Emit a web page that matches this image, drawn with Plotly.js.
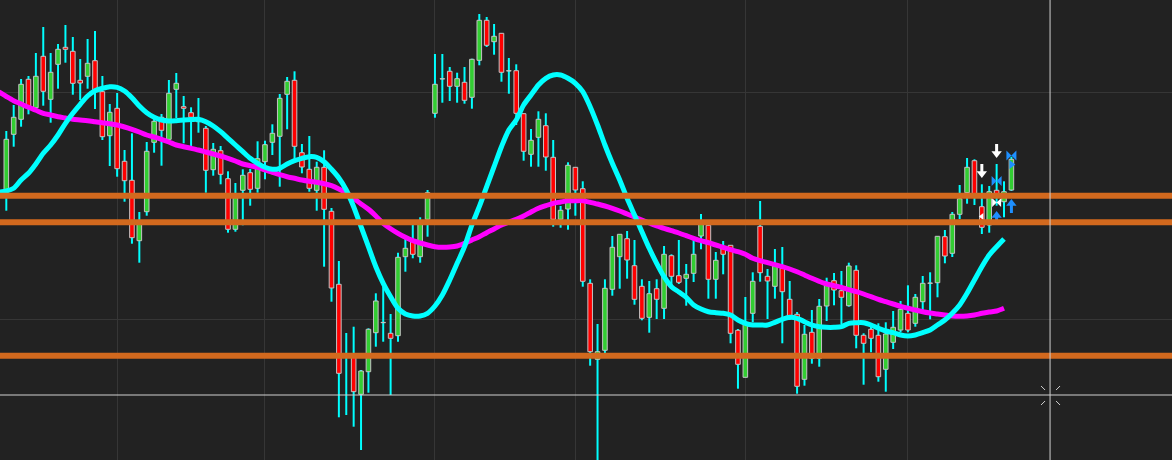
<!DOCTYPE html>
<html><head><meta charset="utf-8">
<script src="https://cdn.plot.ly/plotly-3.0.1.min.js"></script>
<style>html,body{margin:0;padding:0;background:#222222;overflow:hidden}#chart{width:1172px;height:460px}</style>
</head><body><div id="chart"></div>
<script>
// OHLC values (chart units), candle index 0..136
const open = [
270,325.7,340.7,380.7,352.3,403.7,360.7,395.7,412.7,408.7,
379.7,383.7,399.3,368.3,324.3,351.7,298.7,279.7,219.3,248.3,
317.7,342.7,320.7,370.7,353.3,347.3,338.3,331.7,290.3,309.3,
281.3,230.7,269.7,287.3,271.7,298.3,317.7,323.7,365.7,379.7,
307.3,290.7,269.7,292.7,248.7,175.7,105,105,65.7,88.3,
127.3,137.3,126.7,124.3,203.3,220,203.3,240.7,346.7,381,
388.7,373.7,377.7,362.7,399.7,439.7,418.3,426.7,389,389.3,
346.3,305.7,322.7,334.3,302.7,240.7,251,292.7,271.3,176.7,
100.7,109.7,170.7,203.3,221.3,194.3,173.7,142.7,171.3,151.7,
204.3,184.3,181.7,186.7,224,234.7,180.7,211.3,214.7,129.7,
82.7,146.7,233.7,183.7,173.7,191.7,160.7,145.7,80.7,127.7,
101.7,154,179.3,169.3,154.3,189.7,124.7,130.7,124.7,90.7,
117.7,130,146.7,136.7,158.3,176.7,177.3,223.3,206.7,245.7,
267.3,299.3,253.3,235,269.7,258.3,270];
const high = [
329,355,381,384,407,433,407,416,435,423,
401,421,429,384,356,367,310,326.7,248,318,
343.3,346,380,387,364,352.7,362,334,317,314,
288.7,277,290.7,291,318.7,319.3,335.7,366,383,388.7,
316,324,298.3,309.7,252,199,127,133.3,90,131.7,
166.7,173.3,146,207.3,223.3,235,242.7,270,406,406,
393,387.3,393,401.3,446,443,436,426.7,402,395.7,
346.7,331,348.7,346.7,320,254,297.7,292.7,278.7,180.7,
136,180.7,224,225.7,229,220,180.7,179,180.7,214,
205.7,220,196,220,246,234.7,208,219,214.7,131,
163,187.7,259,191,211,213,179,148,135,150,
161,182.3,187,189,197.3,194.7,126.7,135,136.7,137.7,
149,159,174.7,166,184,187.7,223.7,230,248,275,
302,300.7,275.7,274,296,278.7,303.3];
const low = [
249.3,313.3,333.3,345.7,350,354.3,337.3,371.3,397.3,365.3,
360,371.3,351,320,294,283.3,258.3,216.3,197.3,244.3,
307.3,294.3,320,342,316.7,313.3,327.3,267.3,284.3,275.7,
227.3,228.3,234.7,254.3,267.3,280.7,305,273.3,330.7,301.3,
286.7,268.3,249.3,193.3,158.3,42.7,45,33.3,10,67.3,
113.3,118.3,65,118.3,188.3,201.7,197.3,223.3,342.3,357.3,
359,357.3,356.3,351.3,394.7,413,405.3,378.3,366.3,335,
299.3,293.3,293.3,289.3,233.3,232.3,230.3,244.3,173.3,94.3,
-5,106.7,164.3,171.3,181.3,155.3,139.7,127.3,141,141,
173.3,176,154.3,178,210.7,161.3,161.3,185.7,116.7,71.3,
82.7,137.7,178.3,141,161.3,116.7,140,66.3,74.3,96.3,
93.3,139,154.7,136,153.3,111.7,75.3,107.7,78.3,68.3,
111,127.7,127.7,133.3,147.3,140.7,162.7,196.7,203,241,
256.3,255,226,227.3,254.3,242.7,269];
const close = [
320.7,342.7,375.7,353.3,383.7,368.7,387.7,410.7,410.7,376.7,
377,396.7,369,323.3,347.7,291.3,279.3,222.3,236.7,308.7,
338.7,329.7,366.7,376.7,351.7,342.7,338.8,289.7,310.7,285.7,
230.7,262.3,284.7,270.7,301.3,315.3,326.7,361.7,378.7,313.7,
293,271.7,292.7,250.7,172,86.7,105.5,68.3,89,130.7,
159,137.5,121.7,202.7,211.7,205.7,236.7,267.3,375.7,381.2,
373.7,381.3,359.7,400.7,439.7,414.7,423.7,387.7,389.2,346.7,
308.7,319.7,340.7,303,240.7,249.7,294.7,270,178.7,108.3,
108.3,171.7,212.7,225.7,200,160.7,141.7,166.3,160.7,205.7,
183.7,177.7,185.7,205.7,235.7,180.7,199.7,205.7,126.7,95.7,
137.3,178.7,187.3,179,194,168.3,144.3,73.7,125.7,101.7,
153.7,176,170,162.7,194,124.7,116.7,121.7,83.3,126,
132.7,150.7,130,162.7,176.7,176.9,223.7,204,245.7,261.3,
292.7,263.3,232.7,268.3,264.7,268.3,300.7];

// Moving averages, index -1..135
const cyanMA = [
268,269,271.7,280,286.7,296,306.7,315,325,336.7,346.7,355.7,364,369.3,371.7,373.3,372.7,369,362.3,354,347.3,342.7,340,339,
339.3,340,340.5,340.7,338.3,334,328.3,321.7,315,308.3,301.7,296.7,292.7,290.7,291.7,296,299.3,301.7,303.3,302.7,298.3,290.7,282,
270,253.3,233.3,213.3,193.3,176.7,163.3,151.7,146,144,144,146.7,154,165,180,196.7,213.3,235,253.3,273.3,293.3,313.3,330,
340,355,365,375,381.7,385,385,381.7,376.7,368.3,353.3,335,315,296.7,280,261.7,245,228.3,211.7,196.7,183.3,173.3,168,
162.7,155,151,148.3,147.3,146.7,145,140,136.7,135,135,135,137.7,140.7,142.7,141.7,138.3,135,133.3,132.7,132.7,133.3,136.7,
137.3,137.3,135,131.7,129,127.3,125,124,125,127.3,130,135,140,146.7,155,166.7,180,193.3,205,213.3,221];
const magentaMA = [
368,363.5,359.3,356,352.7,349.7,346.7,345,343.3,342,340.7,340,339.3,338.3,337.3,336.3,335,333,330.7,328,325,323,320.7,318,
315,313.3,311.7,310,308,306,304,301.7,299,296,294.3,292.7,290,287.7,285.3,283.3,281.7,280,278.7,277.7,276.3,274.3,271,
267,261.7,256,250.7,244,236.7,231.3,226.7,222.7,219.3,217,215,213.3,212.7,213,214,216.7,220,223.3,227.3,231,235,238,
240.7,244,248,251.7,254.3,256.7,258,259.3,259.3,259.3,257.7,256,254,251.7,249,246,243,240,237,234,231.7,229.3,227,
224.3,221.7,219.3,217.3,215,212.7,210.3,208.3,205.7,201.7,199.3,197.3,195.3,193.3,191,188.3,185,181.7,178.7,176,174.3,172.7,170.3,
168.3,166,163.3,160.7,158.3,156,153.7,151.7,150,148.3,147,146,145,144,143.7,144,145,146.7,148,149,151.7];

// Horizontal levels
const levels = [264.2, 237.8, 104.2];
// Signals
const downIdx = [132, 134];  const downTip = [282, 302];
const upIdx = [134, 136];    const upTip = [249, 261];
const blueBowIdx = [134, 136]; const blueBowVal = [279, 304.5];
const whiteBowIdx = [134];   const whiteBowVal = [257.5];
const blueTriIdx = [136];    const blueTriVal = [295.5];
const whiteTriIdx = [132];   const whiteTriVal = [243.5];
// Grid ticks and crosshair
const xGrid = [15, 35, 58, 77, 100, 122];
const yGrid = [141, 368];
const crossX = 141.23, crossY = 65;

const idx = open.map((_, i) => i);
const lineX = cyanMA.map((_, k) => k - 1);
const bodyBase = open.map((o, i) => Math.min(o, close[i]));
const bodyH = open.map((o, i) => Math.max(Math.abs(close[i] - o), 0.3));
const bodyColor = open.map((o, i) => close[i] >= o ? '#32cd32' : '#ff0000');
const wickH = high.map((h, i) => h - low[i]);

function stems(ix, tips, dir, len, headOff) {
  const x = [], y = [];
  ix.forEach((v, k) => { x.push(v, v, null); y.push(tips[k] + dir * len, tips[k] + dir * headOff, null); });
  return {x, y};
}
const dS = stems(downIdx, downTip, 1, 14, 5);
const uS = stems(upIdx, upTip, -1, 14, 5);

const traces = [
  {type:'bar', x: idx, base: low, y: wickH, width: 0.27,
   marker:{color:'#00ffff', line:{width:0}}, hoverinfo:'skip'},
  {type:'bar', x: idx, base: bodyBase, y: bodyH, width: 0.62,
   marker:{color: bodyColor, line:{color:'#c4c4c4', width:1}}, hoverinfo:'skip'},
  {type:'scatter', mode:'lines', x: lineX, y: magentaMA,
   line:{color:'#ff00ff', width:5, shape:'spline', smoothing:0.8}, hoverinfo:'skip'},
  {type:'scatter', mode:'lines', x: lineX, y: cyanMA,
   line:{color:'#00ffff', width:5, shape:'spline', smoothing:0.8}, hoverinfo:'skip'},
  {type:'scatter', mode:'lines', x: dS.x, y: dS.y, line:{color:'#ffffff', width:3}, hoverinfo:'skip'},
  {type:'scatter', mode:'markers', x: downIdx, y: downTip.map(t => t + 4.5),
   marker:{symbol:'triangle-down', size:9, color:'#ffffff'}, hoverinfo:'skip'},
  {type:'scatter', mode:'lines', x: uS.x, y: uS.y, line:{color:'#1e8fff', width:3}, hoverinfo:'skip'},
  {type:'scatter', mode:'markers', x: upIdx, y: upTip.map(t => t - 4.5),
   marker:{symbol:'triangle-up', size:9, color:'#1e8fff'}, hoverinfo:'skip'},
  {type:'scatter', mode:'markers', x: blueBowIdx, y: blueBowVal,
   marker:{symbol:'bowtie', size:10, color:'#1e8fff'}, hoverinfo:'skip'},
  {type:'scatter', mode:'markers', x: whiteBowIdx, y: whiteBowVal,
   marker:{symbol:'bowtie', size:9, color:'#ffffff'}, hoverinfo:'skip'},
  {type:'scatter', mode:'markers', x: blueTriIdx, y: blueTriVal,
   marker:{symbol:'triangle-right', size:8, color:'#1e8fff'}, hoverinfo:'skip'},
  {type:'scatter', mode:'markers', x: whiteTriIdx, y: whiteTriVal,
   marker:{symbol:'triangle-left', size:6, color:'#ffffff'}, hoverinfo:'skip'}
];

const shapes = levels.map(v => ({type:'line', xref:'paper', x0:0, x1:1, yref:'y', y0:v, y1:v,
  line:{color:'#d2691e', width:6}, layer:'above'}));
const chColor = '#d0d0d0';
shapes.push({type:'line', xref:'paper', x0:0, x1:1, yref:'y', y0:crossY, y1:crossY, line:{color:chColor, width:1}, layer:'above'});
shapes.push({type:'line', xref:'x', x0:crossX, x1:crossX, yref:'paper', y0:0, y1:1, line:{color:chColor, width:1}, layer:'above'});
[[-9,9,-5,5],[6,5,10,9],[-9,-10,-5,-6],[6,-6,10,-10]].forEach(d => {
  shapes.push({type:'line', xsizemode:'pixel', xanchor:crossX, ysizemode:'pixel', yanchor:crossY,
    xref:'x', yref:'y', x0:d[0], y0:d[1], x1:d[2], y1:d[3], line:{color:chColor, width:1}, layer:'above'});
});

const layout = {
  width:1172, height:460, margin:{l:0, r:0, t:0, b:0, pad:0},
  paper_bgcolor:'#222222', plot_bgcolor:'#222222',
  showlegend:false, barmode:'overlay',
  xaxis:{range:[-0.853, 157.73], tickvals:xGrid, showticklabels:false, ticks:'',
         showgrid:true, gridcolor:'#363636', gridwidth:1, zeroline:false, showline:false, fixedrange:true},
  yaxis:{range:[0, 460], tickvals:yGrid, showticklabels:false, ticks:'',
         showgrid:true, gridcolor:'#363636', gridwidth:1, zeroline:false, showline:false, fixedrange:true},
  shapes: shapes
};
Plotly.newPlot('chart', traces, layout, {displayModeBar:false, staticPlot:true});
</script>
</body></html>
